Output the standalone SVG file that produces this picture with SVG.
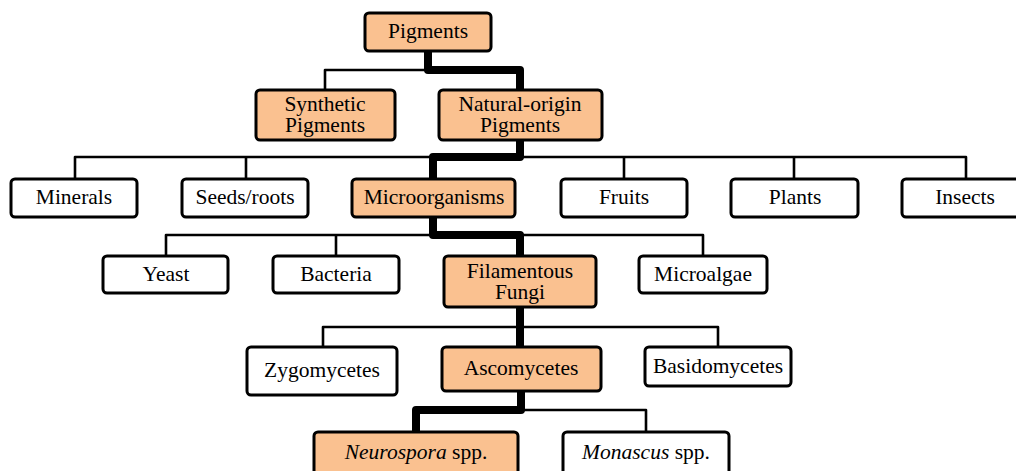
<svg xmlns="http://www.w3.org/2000/svg" width="1016" height="471" viewBox="0 0 1016 471">
<style>
.box{stroke:#000;stroke-width:3;fill:#fff}
.hl{fill:#FAC190}
text{font-family:"Liberation Serif","Times New Roman",serif;font-size:21.5px;fill:#000;text-anchor:middle}
.thin{fill:none;stroke:#000;stroke-width:2.6;stroke-linejoin:round}
.thick{fill:none;stroke:#000;stroke-width:8;stroke-linejoin:round}
</style>
<rect width="1016" height="471" fill="#fff"/>
<g id="connectors">
<path class="thin" d="M325,89V70H428"/>
<path class="thin" d="M75,179V157H966V179M246,157V179M624,157V179M794,157V179"/>
<path class="thin" d="M166,256V235H703V256M336,235V256"/>
<path class="thin" d="M323,346V327H718V346"/>
<path class="thin" d="M521,410H646V431"/>
<path class="thick" d="M428,51V70H520V89"/>
<path class="thick" d="M520,140V157H433V179"/>
<path class="thick" d="M433,217V235H520V256"/>
<path class="thick" d="M520,307V346"/>
<path class="thick" d="M521,391V410H416V431"/>
</g>
<g id="pigments"><rect class="box hl" x="365" y="13" width="126" height="38" rx="4"/><text x="428" y="38">Pigments</text></g>
<g id="synthetic"><rect class="box hl" x="256" y="90" width="139" height="50" rx="4"/><text x="325" y="111">Synthetic<tspan x="325" dy="21">Pigments</tspan></text></g>
<g id="natural"><rect class="box hl" x="439" y="90" width="163" height="50" rx="4"/><text x="520" y="111">Natural-origin<tspan x="520" dy="21">Pigments</tspan></text></g>
<g id="minerals"><rect class="box" x="11" y="179" width="126" height="38" rx="4"/><text x="74" y="204">Minerals</text></g>
<g id="seeds"><rect class="box" x="182" y="179" width="126" height="38" rx="4"/><text x="245" y="204">Seeds/roots</text></g>
<g id="microorganisms"><rect class="box hl" x="352" y="179" width="163" height="38" rx="4"/><text x="434" y="204">Microorganisms</text></g>
<g id="fruits"><rect class="box" x="561" y="179" width="126" height="38" rx="4"/><text x="624" y="204">Fruits</text></g>
<g id="plants"><rect class="box" x="731" y="179" width="127" height="38" rx="4"/><text x="795" y="204">Plants</text></g>
<g id="insects"><rect class="box" x="902" y="179" width="126" height="38" rx="4"/><text x="965" y="204">Insects</text></g>
<g id="yeast"><rect class="box" x="103" y="256" width="125" height="37" rx="4"/><text x="166" y="281">Yeast</text></g>
<g id="bacteria"><rect class="box" x="273" y="256" width="126" height="37" rx="4"/><text x="336" y="281">Bacteria</text></g>
<g id="filamentous"><rect class="box hl" x="444" y="256" width="152" height="51" rx="4"/><text x="520" y="278">Filamentous<tspan x="520" dy="21">Fungi</tspan></text></g>
<g id="microalgae"><rect class="box" x="639" y="256" width="128" height="37" rx="4"/><text x="703" y="281">Microalgae</text></g>
<g id="zygomycetes"><rect class="box" x="247" y="347" width="150" height="48" rx="4"/><text x="322" y="377">Zygomycetes</text></g>
<g id="ascomycetes"><rect class="box hl" x="442" y="347" width="159" height="44" rx="4"/><text x="521" y="375">Ascomycetes</text></g>
<g id="basidomycetes"><rect class="box" x="645" y="347" width="146" height="39" rx="4"/><text x="718" y="373">Basidomycetes</text></g>
<g id="neurospora"><rect class="box hl" x="314" y="432" width="204" height="50" rx="4"/><text x="416" y="459"><tspan font-style="italic">Neurospora</tspan> spp.</text></g>
<g id="monascus"><rect class="box" x="563" y="432" width="166" height="50" rx="4"/><text x="646" y="459"><tspan font-style="italic">Monascus</tspan> spp.</text></g>
</svg>
